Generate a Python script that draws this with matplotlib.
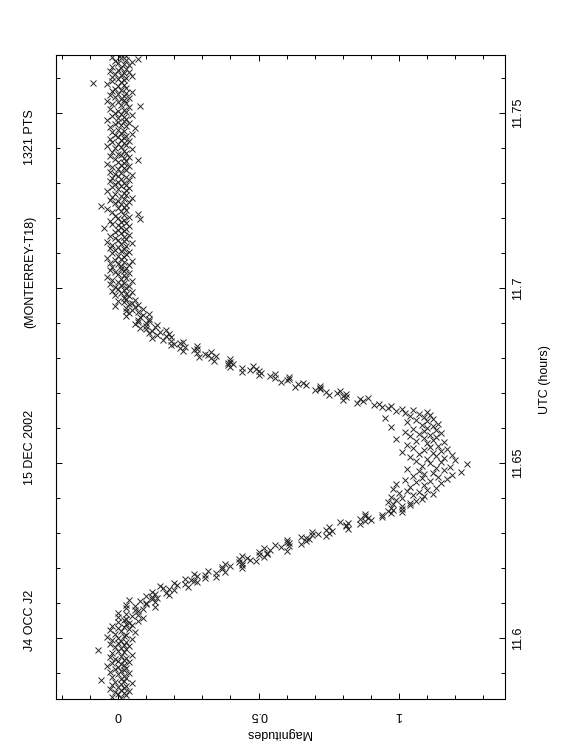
import numpy as np
import matplotlib
matplotlib.use('Agg')
import matplotlib.pyplot as plt
from matplotlib.ticker import MultipleLocator

plt.rcParams['font.family'] = ['Liberation Sans', 'DejaVu Sans']

# J4 occults J2, 15 Dec 2002 (Monterrey T18)
# UTC in hours, magnitude drop relative to the out-of-event level

# before the event
utc_pre = [11.5830, 11.5833, 11.5836, 11.5839, 11.5842, 11.5845, 11.5848, 11.5851, 11.5854, 11.5857,
           11.5860, 11.5863, 11.5866, 11.5869, 11.5872, 11.5875, 11.5878, 11.5881, 11.5884, 11.5887,
           11.5890, 11.5893, 11.5896, 11.5899, 11.5902, 11.5905, 11.5908, 11.5911, 11.5914, 11.5917,
           11.5920, 11.5923, 11.5926, 11.5929, 11.5932, 11.5935, 11.5938, 11.5941, 11.5944, 11.5947,
           11.5950, 11.5953, 11.5956, 11.5959, 11.5962, 11.5965, 11.5968, 11.5971, 11.5974, 11.5977,
           11.5980, 11.5983, 11.5986, 11.5989, 11.5992, 11.5995, 11.5998, 11.6001, 11.6004, 11.6007,
           11.6010, 11.6013, 11.6016, 11.6019, 11.6022, 11.6025, 11.6028, 11.6031, 11.6034, 11.6037,
           11.6040]
mag_pre = [0.01, -0.02, 0.03, 0.00, 0.02, -0.01, 0.04, 0.01, -0.03, 0.02,
           0.00, 0.03, -0.02, 0.01, 0.05, -0.01, 0.02, -0.06, 0.01, 0.03,
           -0.02, 0.02, 0.00, 0.04, -0.03, 0.01, 0.02, -0.01, 0.03, 0.00,
           -0.04, 0.02, 0.01, -0.02, 0.04, 0.00, 0.02, -0.01, 0.03, -0.03,
           0.01, 0.05, -0.02, 0.02, 0.00, -0.07, 0.03, 0.01, -0.01, 0.04,
           0.02, -0.03, 0.00, 0.03, 0.01, -0.02, 0.05, 0.00, -0.04, 0.02,
           0.03, -0.01, 0.06, 0.01, -0.03, 0.04, 0.00, 0.02, -0.02, 0.05,
           0.03]

# ingress
utc_ingress = [11.6043, 11.6046, 11.6049, 11.6052, 11.6055, 11.6058, 11.6061, 11.6064, 11.6067,
               11.6070, 11.6073, 11.6076, 11.6079, 11.6082, 11.6085, 11.6088, 11.6091, 11.6094, 11.6097,
               11.6100, 11.6103, 11.6106, 11.6109, 11.6112, 11.6115, 11.6118, 11.6121, 11.6124, 11.6127,
               11.6130, 11.6133, 11.6136, 11.6139, 11.6142, 11.6145, 11.6148, 11.6151, 11.6154, 11.6157,
               11.6160, 11.6163, 11.6166, 11.6169, 11.6172, 11.6175, 11.6178, 11.6181, 11.6184, 11.6187,
               11.6190, 11.6193, 11.6196, 11.6199, 11.6202, 11.6205, 11.6208, 11.6211, 11.6214, 11.6217,
               11.6220, 11.6223, 11.6226, 11.6229, 11.6232, 11.6235, 11.6238, 11.6241, 11.6244, 11.6247,
               11.6250, 11.6253, 11.6256, 11.6259, 11.6262, 11.6265, 11.6268, 11.6271, 11.6274, 11.6277,
               11.6280, 11.6283, 11.6286, 11.6289, 11.6292, 11.6295, 11.6298, 11.6301, 11.6304, 11.6307,
               11.6310, 11.6313, 11.6316, 11.6319, 11.6322, 11.6325, 11.6328, 11.6331, 11.6334, 11.6337,
               11.6340, 11.6343, 11.6346, 11.6349, 11.6352, 11.6355, 11.6358, 11.6361, 11.6364, 11.6367,
               11.6370, 11.6373, 11.6376, 11.6379, 11.6382]
mag_ingress = [0.04, 0.00, 0.07, 0.02, 0.03, 0.09, 0.00, 0.05, 0.07,
               0.03, 0.00, 0.07, 0.06, 0.09, 0.03, 0.13, 0.06, 0.03, 0.10,
               0.10, 0.13, 0.08, 0.04, 0.12, 0.14, 0.12, 0.10, 0.18, 0.13,
               0.17, 0.12, 0.20, 0.18, 0.16, 0.25, 0.15, 0.21, 0.24, 0.20,
               0.28, 0.27, 0.26, 0.24, 0.31, 0.35, 0.28, 0.31, 0.27, 0.35,
               0.38, 0.32, 0.37, 0.44, 0.37, 0.40, 0.44, 0.38, 0.44, 0.43,
               0.49, 0.47, 0.43, 0.46, 0.52, 0.44, 0.50, 0.53, 0.53, 0.50,
               0.60, 0.54, 0.52, 0.58, 0.61, 0.56, 0.65, 0.61, 0.60, 0.67,
               0.60, 0.68, 0.67, 0.65, 0.74, 0.69, 0.71, 0.75, 0.69, 0.76,
               0.74, 0.82, 0.75, 0.81, 0.81, 0.86, 0.82, 0.79, 0.88, 0.90,
               0.86, 0.89, 0.94, 0.88, 0.94, 0.88, 0.97, 1.01, 0.96, 0.98,
               1.01, 0.97, 1.01, 1.04, 0.98]

# bottom of the event
utc_min = [11.6385, 11.6388, 11.6391, 11.6394, 11.6397,
           11.6400, 11.6403, 11.6406, 11.6409, 11.6412, 11.6415, 11.6418, 11.6421, 11.6424, 11.6427,
           11.6430, 11.6433, 11.6436, 11.6439, 11.6442, 11.6445, 11.6448, 11.6451, 11.6454, 11.6457,
           11.6460, 11.6463, 11.6466, 11.6469, 11.6472, 11.6475, 11.6478, 11.6481, 11.6484, 11.6487,
           11.6490, 11.6493, 11.6496, 11.6499, 11.6502, 11.6505, 11.6508, 11.6511, 11.6514, 11.6517,
           11.6520, 11.6523, 11.6526, 11.6529, 11.6532, 11.6535, 11.6538, 11.6541, 11.6544, 11.6547,
           11.6550, 11.6553, 11.6556, 11.6559, 11.6562, 11.6565, 11.6568, 11.6571, 11.6574, 11.6577,
           11.6580, 11.6583, 11.6586, 11.6589, 11.6592, 11.6595, 11.6598, 11.6601, 11.6604, 11.6607,
           11.6610, 11.6613, 11.6616, 11.6619, 11.6622, 11.6625, 11.6628, 11.6631, 11.6634, 11.6637,
           11.6640, 11.6643, 11.6646, 11.6649, 11.6652, 11.6655, 11.6658]
mag_min = [1.04, 0.96, 1.06, 0.99, 1.08,
           1.01, 0.97, 1.09, 1.05, 1.12, 1.00, 1.07, 1.03, 1.10, 0.98,
           1.13, 1.04, 1.09, 0.99, 1.15, 1.06, 1.11, 1.02, 1.17, 1.08,
           1.14, 1.05, 1.19, 1.09, 1.12, 1.22, 1.07, 1.16, 1.03, 1.13,
           1.18, 1.08, 1.24, 1.11, 1.15, 1.06, 1.20, 1.10, 1.16, 1.04,
           1.13, 1.19, 1.07, 1.12, 1.01, 1.15, 1.09, 1.17, 1.05, 1.11,
           1.14, 1.03, 1.10, 1.16, 1.06, 1.12, 0.99, 1.09, 1.13, 1.04,
           1.11, 1.07, 1.15, 1.02, 1.09, 1.13, 1.05, 1.10, 0.97, 1.12,
           1.08, 1.14, 1.03, 1.10, 1.06, 1.12, 0.95, 1.09, 1.04, 1.11,
           1.07, 1.02, 1.10, 0.99, 1.05, 1.01, 0.96]

# egress
utc_egress = [11.6661, 11.6664, 11.6667,
              11.6670, 11.6673, 11.6676, 11.6679, 11.6682, 11.6685, 11.6688, 11.6691, 11.6694, 11.6697,
              11.6700, 11.6703, 11.6706, 11.6709, 11.6712, 11.6715, 11.6718, 11.6721, 11.6724, 11.6727,
              11.6730, 11.6733, 11.6736, 11.6739, 11.6742, 11.6745, 11.6748, 11.6751, 11.6754, 11.6757,
              11.6760, 11.6763, 11.6766, 11.6769, 11.6772, 11.6775, 11.6778, 11.6781, 11.6784, 11.6787,
              11.6790, 11.6793, 11.6796, 11.6799, 11.6802, 11.6805, 11.6808, 11.6811, 11.6814, 11.6817,
              11.6820, 11.6823, 11.6826, 11.6829, 11.6832, 11.6835, 11.6838, 11.6841, 11.6844, 11.6847,
              11.6850, 11.6853, 11.6856, 11.6859, 11.6862, 11.6865, 11.6868, 11.6871, 11.6874, 11.6877,
              11.6880, 11.6883, 11.6886, 11.6889, 11.6892, 11.6895, 11.6898, 11.6901, 11.6904, 11.6907,
              11.6910, 11.6913, 11.6916, 11.6919, 11.6922, 11.6925, 11.6928, 11.6931, 11.6934, 11.6937,
              11.6940, 11.6943, 11.6946, 11.6949, 11.6952, 11.6955, 11.6958, 11.6961, 11.6964, 11.6967,
              11.6970]
mag_egress = [0.94, 0.97, 0.91,
              0.93, 0.85, 0.87, 0.80, 0.86, 0.89, 0.81, 0.80, 0.75, 0.81,
              0.78, 0.74, 0.79, 0.70, 0.72, 0.72, 0.63, 0.72, 0.67, 0.64,
              0.66, 0.58, 0.60, 0.61, 0.56, 0.61, 0.54, 0.50, 0.56, 0.51,
              0.44, 0.50, 0.47, 0.49, 0.44, 0.40, 0.48, 0.39, 0.41, 0.39,
              0.40, 0.34, 0.40, 0.33, 0.29, 0.35, 0.32, 0.31, 0.28, 0.33,
              0.23, 0.27, 0.28, 0.22, 0.24, 0.28, 0.19, 0.20, 0.22, 0.23,
              0.19, 0.16, 0.12, 0.19, 0.17, 0.14, 0.18, 0.11, 0.15, 0.12,
              0.17, 0.10, 0.08, 0.13, 0.10, 0.14, 0.06, 0.10, 0.07, 0.11,
              0.07, 0.11, 0.08, 0.03, 0.09, 0.11, 0.04, 0.07, 0.03, 0.05,
              0.09, 0.03, 0.06, -0.01, 0.07, 0.04, 0.05, 0.02, 0.00, 0.06,
              0.03]

# after the event
utc_post = [11.6973, 11.6976, 11.6979, 11.6982, 11.6985, 11.6988, 11.6991, 11.6994, 11.6997,
            11.7000, 11.7003, 11.7006, 11.7009, 11.7012, 11.7015, 11.7018, 11.7021, 11.7024, 11.7027,
            11.7030, 11.7033, 11.7036, 11.7039, 11.7042, 11.7045, 11.7048, 11.7051, 11.7054, 11.7057,
            11.7060, 11.7063, 11.7066, 11.7069, 11.7072, 11.7075, 11.7078, 11.7081, 11.7084, 11.7087,
            11.7090, 11.7093, 11.7096, 11.7099, 11.7102, 11.7105, 11.7108, 11.7111, 11.7114, 11.7117,
            11.7120, 11.7123, 11.7126, 11.7129, 11.7132, 11.7135, 11.7138, 11.7141, 11.7144, 11.7147,
            11.7150, 11.7153, 11.7156, 11.7159, 11.7162, 11.7165, 11.7168, 11.7171, 11.7174, 11.7177,
            11.7180, 11.7183, 11.7186, 11.7189, 11.7192, 11.7195, 11.7198, 11.7201, 11.7204, 11.7207,
            11.7210, 11.7213, 11.7216, 11.7219, 11.7222, 11.7225, 11.7228, 11.7231, 11.7234, 11.7237,
            11.7240, 11.7243, 11.7246, 11.7249, 11.7252, 11.7255, 11.7258, 11.7261, 11.7264, 11.7267,
            11.7270, 11.7273, 11.7276, 11.7279, 11.7282, 11.7285, 11.7288, 11.7291, 11.7294, 11.7297,
            11.7300, 11.7303, 11.7306, 11.7309, 11.7312, 11.7315, 11.7318, 11.7321, 11.7324, 11.7327,
            11.7330, 11.7333, 11.7336, 11.7339, 11.7342, 11.7345, 11.7348, 11.7351, 11.7354, 11.7357,
            11.7360, 11.7363, 11.7366, 11.7369, 11.7372, 11.7375, 11.7378, 11.7381, 11.7384, 11.7387,
            11.7390, 11.7393, 11.7396, 11.7399, 11.7402, 11.7405, 11.7408, 11.7411, 11.7414, 11.7417,
            11.7420, 11.7423, 11.7426, 11.7429, 11.7432, 11.7435, 11.7438, 11.7441, 11.7444, 11.7447,
            11.7450, 11.7453, 11.7456, 11.7459, 11.7462, 11.7465, 11.7468, 11.7471, 11.7474, 11.7477,
            11.7480, 11.7483, 11.7486, 11.7489, 11.7492, 11.7495, 11.7498, 11.7501, 11.7504, 11.7507,
            11.7510, 11.7513, 11.7516, 11.7519, 11.7522, 11.7525, 11.7528, 11.7531, 11.7534, 11.7537,
            11.7540, 11.7543, 11.7546, 11.7549, 11.7552, 11.7555, 11.7558, 11.7561, 11.7564, 11.7567,
            11.7570, 11.7573, 11.7576, 11.7579, 11.7582, 11.7585, 11.7588, 11.7591, 11.7594, 11.7597,
            11.7600, 11.7603, 11.7606, 11.7609, 11.7612, 11.7615, 11.7618, 11.7621, 11.7624, 11.7627,
            11.7630, 11.7633, 11.7636, 11.7639, 11.7642, 11.7645, 11.7648, 11.7651, 11.7654, 11.7657,
            11.7660, 11.7663, 11.7666]
mag_post = [0.02, 0.04, -0.01, 0.03, 0.01, 0.05, -0.02, 0.02, 0.00,
            0.03, -0.01, 0.04, 0.01, -0.03, 0.02, 0.00, 0.05, -0.02, 0.01,
            0.03, -0.04, 0.02, 0.00, 0.04, -0.01, 0.02, -0.03, 0.01, 0.03,
            -0.02, 0.01, 0.04, 0.00, -0.03, 0.02, 0.05, -0.01, 0.01, -0.04,
            0.02, 0.00, 0.03, -0.02, 0.04, 0.01, -0.01, 0.02, -0.03, 0.00,
            0.03, -0.02, 0.01, 0.05, -0.04, 0.02, 0.00, 0.03, -0.01, 0.02,
            -0.03, 0.04, 0.01, -0.01, 0.02, 0.00, 0.03, -0.05, 0.01, 0.04,
            0.00, -0.02, 0.03, 0.01, -0.03, 0.02, 0.08, 0.00, 0.04, -0.01,
            0.02, 0.07, -0.02, 0.01, 0.03, -0.04, 0.00, 0.02, -0.06, 0.03,
            0.01, -0.01, 0.04, 0.00, -0.03, 0.02, 0.05, -0.02, 0.01, 0.03,
            -0.01, 0.02, -0.04, 0.03, 0.00, 0.04, -0.02, 0.01, 0.03, -0.01,
            0.02, 0.00, -0.03, 0.04, 0.01, -0.02, 0.03, 0.00, 0.05, -0.01,
            0.01, -0.03, 0.03, 0.00, 0.02, -0.02, 0.04, 0.01, -0.04, 0.02,
            0.00, 0.03, 0.07, -0.01, 0.02, 0.04, -0.03, 0.01, 0.00, 0.03,
            -0.02, 0.02, 0.05, -0.01, 0.01, -0.04, 0.03, 0.00, 0.02, -0.02,
            0.04, 0.01, -0.03, 0.02, 0.00, 0.03, -0.01, 0.05, 0.01, -0.02,
            0.02, 0.00, 0.06, -0.03, 0.03, 0.01, -0.01, 0.04, 0.00, 0.02,
            -0.04, 0.03, 0.00, 0.02, -0.02, 0.05, 0.01, -0.01, 0.03, 0.00,
            0.02, -0.03, 0.04, 0.08, 0.01, -0.02, 0.03, 0.00, -0.04, 0.02,
            0.01, 0.04, -0.01, 0.02, -0.03, 0.00, 0.03, 0.05, -0.02, 0.01,
            -0.01, 0.03, 0.00, 0.02, -0.04, -0.09, 0.01, -0.02, 0.02, 0.00,
            0.03, -0.02, 0.05, 0.01, -0.01, 0.02, 0.04, -0.03, 0.00, 0.03,
            0.01, -0.02, 0.04, 0.02, 0.00, 0.05, -0.01, 0.03, 0.07, 0.01,
            -0.02, 0.03, 0.01]

mag_ticks = [0, 0.5, 1]
mag_ticklabels = ['0', '0.5', '1']
utc_ticks = [11.6, 11.65, 11.7, 11.75]
utc_ticklabels = ['11.6', '11.65', '11.7', '11.75']
title_parts = ['J4 OCC J2', '15 DEC 2002', '(MONTERREY-T18)', '1321 PTS']

utc = np.concatenate([utc_pre, utc_ingress, utc_min, utc_egress, utc_post])
mag = np.concatenate([mag_pre, mag_ingress, mag_min, mag_egress, mag_post])

# the page is a landscape plot turned on its side: magnitude runs across, time runs up
fig = plt.figure(figsize=(5.62, 7.56), dpi=100)
ax = fig.add_axes([0.0996, 0.0754, 0.7990, 0.8519])
ax.plot(mag, utc, 'x', color='0.15', markersize=4, markeredgewidth=0.7)

ax.set_xlim(-0.2206, 1.377)
ax.set_ylim(11.5826, 11.7666)
ax.set_xticks(mag_ticks)
ax.set_xticklabels(mag_ticklabels, rotation=180)
ax.xaxis.set_minor_locator(MultipleLocator(0.1))
ax.set_yticks(utc_ticks)
ax.set_yticklabels(utc_ticklabels, rotation=90, va='center')
ax.yaxis.set_minor_locator(MultipleLocator(0.01))

ax.tick_params(which='both', direction='in', top=True, bottom=True, left=True, right=True,
               labelleft=False, labelright=True, width=0.7, labelsize=9)
ax.tick_params(which='major', length=4.5)
ax.tick_params(which='minor', length=2.6)
ax.tick_params(axis='x', pad=7)
ax.tick_params(axis='y', pad=5)
for sp in ax.spines.values():
    sp.set_linewidth(0.8)

fig.text(278 / 562, 1 - 733 / 756, 'Magnitudes', rotation=180, ha='center', va='center', fontsize=9)
fig.text(545 / 562, 1 - 380 / 756, 'UTC (hours)', rotation=90, ha='center', va='center', fontsize=9)

# title pieces along the left edge
title_y = [620, 447, 272, 137]
for txt, yy in zip(title_parts, title_y):
    fig.text(30 / 562, 1 - yy / 756, txt, rotation=90, ha='center', va='center', fontsize=9)

fig.savefig('out.png', dpi=100)
